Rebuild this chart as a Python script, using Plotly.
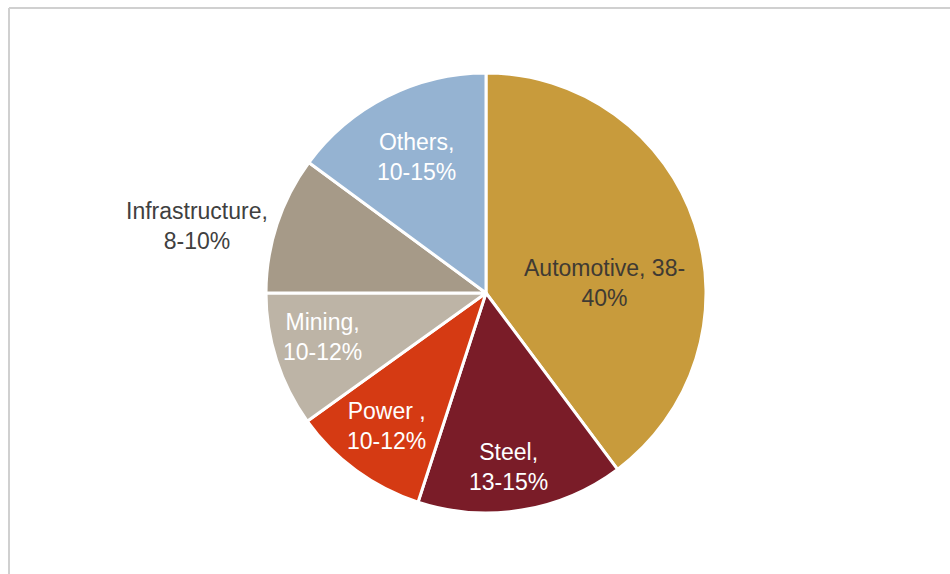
import plotly.graph_objects as go

# Data
sectors = ["Automotive", "Steel", "Power", "Mining", "Infrastructure", "Others"]
shares = [39.8, 15.2, 10.1, 9.9, 10.1, 14.9]
ranges = ["38-40%", "13-15%", "10-12%", "10-12%", "8-10%", "10-15%"]
label_texts = ["Automotive, 38-<br>40%", "Steel,<br>13-15%", "Power ,<br>10-12%",
               "Mining,<br>10-12%", "Infrastructure,<br>8-10%", "Others,<br>10-15%"]
colors = ["#C89B3C", "#7A1C28", "#D53A13", "#BDB4A6", "#A69A88", "#95B3D2"]
text_colors = ["#3F3A33", "#FFFFFF", "#FFFFFF", "#FFFFFF", "#404040", "#FFFFFF"]
# label centres in pixels (x, y from top)
label_px = [(604, 283), (509, 467), (386, 426), (322, 337), (197, 226), (416, 157)]

W, H = 950, 574
cx, cy, R = 486, 293, 220

fig = go.Figure(go.Pie(
    labels=sectors,
    values=shares,
    sort=False,
    direction="clockwise",
    rotation=0,
    marker=dict(colors=colors, line=dict(color="white", width=3)),
    textinfo="none",
    hoverinfo="label+percent",
    showlegend=False,
    domain=dict(x=[(cx - R) / W, (cx + R) / W], y=[1 - (cy + R) / H, 1 - (cy - R) / H]),
))

for txt, col, (px, py) in zip(label_texts, text_colors, label_px):
    fig.add_annotation(x=px / W, y=1 - py / H, xref="paper", yref="paper",
                       xanchor="center", yanchor="middle",
                       text=txt, showarrow=False, align="center",
                       font=dict(family="Liberation Sans, Arial, sans-serif", size=23, color=col))

# chart border (top and left)
fig.add_shape(type="line", xref="paper", yref="paper", x0=9 / W, x1=1, y0=1 - 8 / H, y1=1 - 8 / H,
              line=dict(color="#D0D0D0", width=2))
fig.add_shape(type="line", xref="paper", yref="paper", x0=9 / W, x1=9 / W, y0=0, y1=1 - 8 / H,
              line=dict(color="#D0D0D0", width=2))

fig.update_layout(width=W, height=H, margin=dict(l=0, r=0, t=0, b=0),
                  paper_bgcolor="white", plot_bgcolor="white")

fig.write_html("out.html", config={"displayModeBar": False},
               post_script="document.body.style.margin='0';document.body.style.overflow='hidden';")
